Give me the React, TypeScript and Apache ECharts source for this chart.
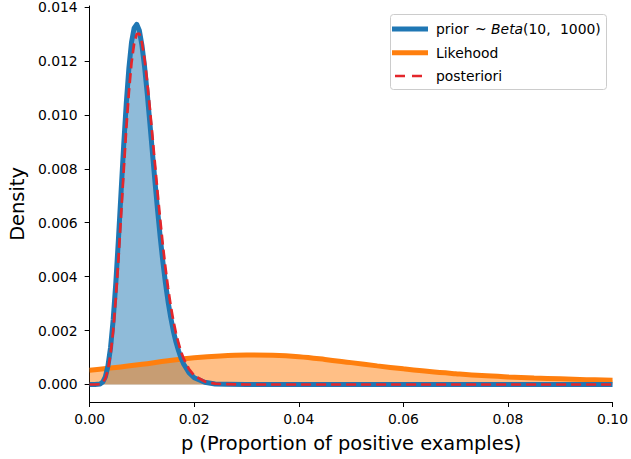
import React, { useEffect, useRef } from "react";
import * as echarts from "echarts";

// grid of p values for prior / posterior
const gridP = [
  0, 0.001, 0.002, 0.0025, 0.003, 0.0035, 0.004, 0.0045, 0.005, 0.0055, 0.006, 0.0065, 0.007, 0.0075,
  0.008, 0.0085, 0.009, 0.0095, 0.01, 0.0105, 0.011, 0.0115, 0.012, 0.0125, 0.013, 0.0135, 0.014,
  0.0145, 0.015, 0.0155, 0.016, 0.0165, 0.017, 0.0175, 0.018, 0.019, 0.02, 0.022, 0.024, 0.026,
  0.03, 0.04, 0.05, 0.06, 0.07, 0.08, 0.09, 0.1,
];

const priorDensity = [
  0, 0, 0.00002, 0.00009, 0.00028, 0.00069, 0.00138, 0.00241, 0.00377, 0.00538, 0.00712, 0.00885,
  0.01043, 0.01173, 0.01269, 0.01322, 0.01336, 0.01313, 0.01258, 0.01179, 0.01081, 0.00973, 0.00861,
  0.0075, 0.00644, 0.00545, 0.00455, 0.00376, 0.00307, 0.00249, 0.00199, 0.00158, 0.00125, 0.00097,
  0.00075, 0.00044, 0.00025, 0.00008, 0.00002, 0.00001, 0, 0, 0, 0, 0, 0, 0, 0,
];

const posteriorDensity = [
  0, 0, 0.00001, 0.00007, 0.00022, 0.00055, 0.00113, 0.002, 0.00319, 0.00464, 0.00625, 0.0079,
  0.00948, 0.01084, 0.01193, 0.01264, 0.013, 0.01302, 0.01268, 0.01206, 0.01124, 0.01027, 0.00922,
  0.00816, 0.0071, 0.0061, 0.00516, 0.00432, 0.00358, 0.00292, 0.00237, 0.00191, 0.00153, 0.0012,
  0.00095, 0.00057, 0.00033, 0.00011, 0.00003, 0.00001, 0, 0, 0, 0, 0, 0, 0, 0,
];

// likelihood curve
const likeP = [
  0, 0.005, 0.01, 0.015, 0.02, 0.025, 0.03, 0.035, 0.04, 0.045, 0.05, 0.055, 0.06, 0.065, 0.07,
  0.075, 0.08, 0.085, 0.09, 0.095, 0.1,
];
const likelihoodDensity = [
  0.00053, 0.00063, 0.00075, 0.00088, 0.00099, 0.00106, 0.00109, 0.00108, 0.00103, 0.00093, 0.00081,
  0.00069, 0.00058, 0.00048, 0.0004, 0.00033, 0.00028, 0.00024, 0.00021, 0.00018, 0.00016,
];

const xTicks = [0, 0.02, 0.04, 0.06, 0.08, 0.1];
const yTicks = [0, 0.002, 0.004, 0.006, 0.008, 0.01, 0.012, 0.014];

const legendLabels = ["prior ~ Beta(10, 1000)", "Likehood", "posteriori"];
const xTitle = "p (Proportion of positive examples)";
const yTitle = "Density";

const FONT = "DejaVu Sans";
const BLUE = "#1f77b4";
const ORANGE = "#ff7f0e";
const RED = "#e3262b";

export default function App() {
  const ref = useRef<HTMLDivElement>(null);

  useEffect(() => {
    const chart = echarts.init(ref.current!, null, { renderer: "svg" });
    const prior = gridP.map((p, i) => [p, priorDensity[i]]);
    const posterior = gridP.map((p, i) => [p, posteriorDensity[i]]);
    const likelihood = likeP.map((p, i) => [p, likelihoodDensity[i]]);

    const axisCommon = {
      axisLine: { show: true, onZero: false, lineStyle: { color: "#000", width: 1 } },
      axisTick: { show: true, inside: false, length: 5, lineStyle: { color: "#000", width: 1 } },
      splitLine: { show: false },
      nameLocation: "middle" as const,
      nameTextStyle: { fontFamily: FONT, fontSize: 19.4, color: "#000" },
    };

    chart.setOption({
      animation: false,
      backgroundColor: "#fff",
      grid: { left: 85, right: 17, top: 6, bottom: 57 },
      xAxis: {
        type: "value",
        min: 0,
        max: 0.1,
        ...axisCommon,
        axisTick: { ...axisCommon.axisTick, customValues: xTicks },
        axisLabel: {
          customValues: xTicks,
          formatter: (v: number) => v.toFixed(2),
          fontFamily: FONT,
          fontSize: 13.9,
          color: "#000",
          margin: 10,
        },
        name: xTitle,
        nameGap: 32,
      },
      yAxis: {
        type: "value",
        min: -0.00065,
        max: 0.01404,
        ...axisCommon,
        axisTick: { ...axisCommon.axisTick, customValues: yTicks },
        axisLabel: {
          customValues: yTicks,
          formatter: (v: number) => v.toFixed(3),
          fontFamily: FONT,
          fontSize: 13.9,
          color: "#000",
          margin: 12,
        },
        name: yTitle,
        nameRotate: 90,
        nameGap: 61,
      },
      series: [
        {
          type: "line",
          data: prior,
          showSymbol: false,
          silent: true,
          lineStyle: { width: 0 },
          areaStyle: { color: BLUE, opacity: 0.5 },
          z: 1,
        },
        {
          type: "line",
          data: likelihood,
          smooth: 0.4,
          showSymbol: false,
          silent: true,
          lineStyle: { width: 0 },
          areaStyle: { color: ORANGE, opacity: 0.5 },
          z: 2,
        },
        {
          type: "line",
          data: likelihood,
          smooth: 0.4,
          showSymbol: false,
          silent: true,
          lineStyle: { width: 5, color: ORANGE },
          z: 3,
        },
        {
          type: "line",
          data: prior,
          showSymbol: false,
          silent: true,
          lineStyle: { width: 5, color: BLUE, join: "round" },
          z: 4,
        },
        {
          type: "line",
          data: posterior,
          showSymbol: false,
          silent: true,
          lineStyle: { width: 2.7, color: RED, type: [10, 5] },
          z: 5,
        },
      ],
      graphic: [
        {
          type: "rect",
          z: 100,
          shape: { x: 390.5, y: 14.5, width: 216, height: 75, r: 3 },
          style: { fill: "rgba(255,255,255,0.8)", stroke: "#cccccc", lineWidth: 1 },
        },
        {
          type: "line",
          z: 101,
          shape: { x1: 392, y1: 29, x2: 428, y2: 29 },
          style: { stroke: BLUE, lineWidth: 5 },
        },
        {
          type: "line",
          z: 101,
          shape: { x1: 392, y1: 52.7, x2: 428, y2: 52.7 },
          style: { stroke: ORANGE, lineWidth: 5 },
        },
        {
          type: "line",
          z: 101,
          shape: { x1: 395, y1: 76, x2: 422, y2: 76 },
          style: { stroke: RED, lineWidth: 2.7, lineDash: [10, 7] },
        },
        {
          type: "text",
          z: 101,
          x: 436,
          y: 29,
          style: {
            text: "{a|prior }{t|~}{a| }{b|Beta}{a|(10,}{s| }{a|1000)}",
            verticalAlign: "middle",
            rich: {
              a: { fontFamily: FONT, fontSize: 13.9, fill: "#000" },
              t: { fontFamily: FONT, fontSize: 13.9, fill: "#000", padding: [0, 0, 0, 2] },
              s: { fontFamily: FONT, fontSize: 13.9, fill: "#000", padding: [0, 5, 0, 0] },
              b: { fontFamily: FONT, fontSize: 13.9, fontStyle: "italic", fill: "#000" },
            },
          },
        },
        {
          type: "text",
          z: 101,
          x: 436,
          y: 52.7,
          style: { text: legendLabels[1], fontFamily: FONT, fontSize: 13.9, fill: "#000", verticalAlign: "middle" },
        },
        {
          type: "text",
          z: 101,
          x: 436,
          y: 76,
          style: { text: legendLabels[2], fontFamily: FONT, fontSize: 13.9, fill: "#000", verticalAlign: "middle" },
        },
      ],
    });

    return () => chart.dispose();
  }, []);

  return (
    <div
      ref={ref}
      style={{ position: "fixed", left: 0, top: 0, width: 631, height: 459, background: "#fff" }}
    />
  );
}
